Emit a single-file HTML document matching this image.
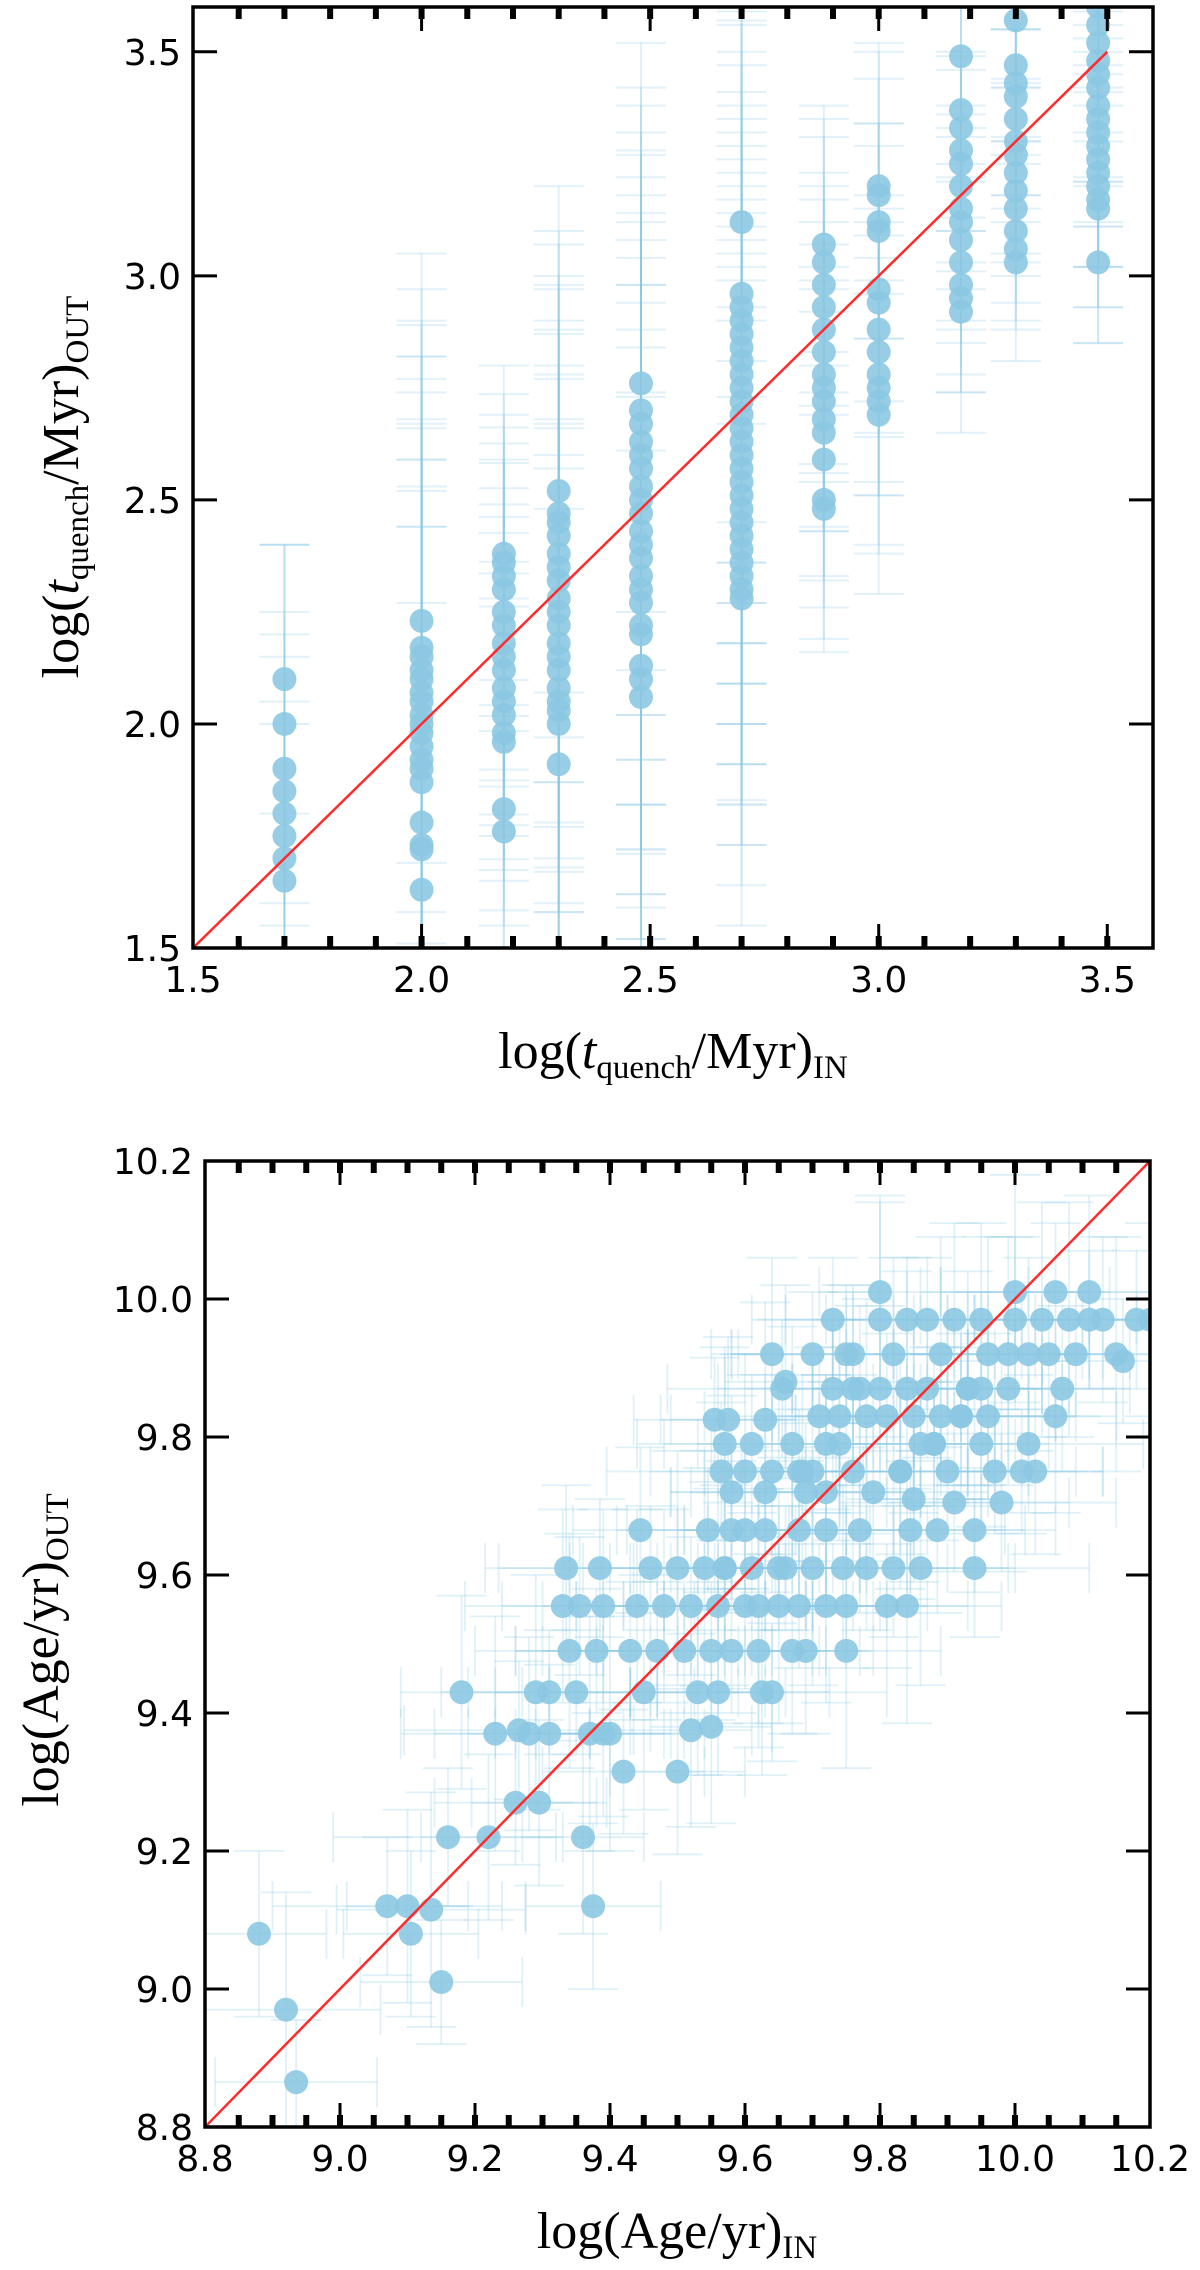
<!DOCTYPE html>
<html><head><meta charset="utf-8"><style>
html,body{margin:0;padding:0;background:#fff;}
svg{display:block;}
.tick{font-family:"DejaVu Sans","Liberation Sans",sans-serif;font-size:36px;fill:#000;}
.lab{font-family:"Liberation Serif","DejaVu Serif",serif;font-size:52px;fill:#000;}
</style></head><body>
<svg id="fig" width="1200" height="2270" viewBox="0 0 1200 2270" xmlns="http://www.w3.org/2000/svg">
<g id="p1"></g>
<g id="p2"></g>
<text class="lab" x="673" y="1068" text-anchor="middle">log(<tspan font-style="italic">t</tspan><tspan font-size="33" dy="10">quench</tspan><tspan dy="-10">/Myr)</tspan><tspan font-size="33" dy="10">IN</tspan></text>
<text class="lab" transform="translate(78,487) rotate(-90)" text-anchor="middle">log(<tspan font-style="italic">t</tspan><tspan font-size="33" dy="10">quench</tspan><tspan dy="-10">/Myr)</tspan><tspan font-size="33" dy="10">OUT</tspan></text>
<text class="lab" x="677" y="2248" text-anchor="middle">log(Age/yr)<tspan font-size="33" dy="10">IN</tspan></text>
<text class="lab" transform="translate(58,1650) rotate(-90)" text-anchor="middle">log(Age/yr)<tspan font-size="33" dy="10">OUT</tspan></text>
</svg>
<script>
// ---- Top panel data ----
const colX = [1.7, 2.0, 2.18, 2.3, 2.48, 2.7, 2.88, 3.0, 3.18, 3.3, 3.48];
const colPoints = [
 [2.10,2.00,1.90,1.85,1.80,1.75,1.70,1.65],
 [2.23,2.17,2.15,2.12,2.10,2.07,2.05,2.02,2.00,1.98,1.95,1.92,1.90,1.87,1.78,1.73,1.72,1.63],
 [2.38,2.36,2.33,2.30,2.25,2.22,2.18,2.15,2.12,2.08,2.05,2.02,1.98,1.96,1.81,1.76],
 [2.52,2.47,2.45,2.42,2.38,2.35,2.32,2.28,2.25,2.22,2.18,2.15,2.12,2.08,2.05,2.03,2.00,1.91],
 [2.76,2.70,2.67,2.63,2.60,2.57,2.53,2.50,2.47,2.43,2.40,2.37,2.33,2.30,2.27,2.22,2.20,2.13,2.10,2.06],
 [3.12,2.96,2.93,2.90,2.87,2.84,2.81,2.78,2.75,2.72,2.69,2.66,2.63,2.60,2.57,2.54,2.51,2.48,2.45,2.42,2.39,2.36,2.33,2.30,2.28],
 [3.07,3.03,2.98,2.93,2.88,2.83,2.78,2.75,2.72,2.68,2.65,2.59,2.50,2.48],
 [3.20,3.18,3.12,3.10,2.97,2.94,2.88,2.83,2.78,2.75,2.72,2.69],
 [3.49,3.37,3.33,3.28,3.25,3.20,3.15,3.12,3.08,3.03,2.98,2.95,2.92],
 [3.57,3.47,3.43,3.40,3.35,3.30,3.27,3.23,3.19,3.15,3.10,3.06,3.03],
 [3.60,3.56,3.52,3.48,3.45,3.42,3.38,3.35,3.32,3.29,3.26,3.23,3.20,3.17,3.15,3.03]
];
const colErr = [0.5, 0.9, 0.47, 0.75, 0.85, 0.75, 0.4, 0.4, 0.3, 0.25, 0.3];
const topXTicks = ["1.5","2.0","2.5","3.0","3.5"];
const topYTicks = ["1.5","2.0","2.5","3.0","3.5"];

// ---- Bottom panel data ----
const ageIn = [8.88,8.92,8.935,9.07,9.10,9.105,9.135,9.15,9.16,9.18,9.22,9.23,9.26,9.265,9.28,9.295,9.29,9.31,9.31,9.33,9.335,9.34,9.35,9.355,9.36,9.375,9.37,9.38,9.385,9.39,9.39,9.40,9.42,9.43,9.44,9.445,9.45,9.46,9.47,9.48,9.50,9.50,9.51,9.52,9.52,9.53,9.54,9.545,9.55,9.55,9.56,9.56,9.555,9.565,9.57,9.575,9.57,9.58,9.58,9.58,9.60,9.60,9.61,9.61,9.62,9.625,9.63,9.63,9.64,9.64,9.64,9.65,9.65,9.655,9.66,9.67,9.67,9.68,9.68,9.685,9.69,9.70,9.70,9.71,9.72,9.72,9.72,9.73,9.73,9.74,9.745,9.75,9.75,9.76,9.76,9.77,9.78,9.78,9.79,9.80,9.80,9.80,9.81,9.82,9.82,9.83,9.84,9.84,9.845,9.85,9.85,9.86,9.87,9.87,9.88,9.885,9.89,9.90,9.91,9.91,9.92,9.93,9.94,9.94,9.95,9.95,9.96,9.97,9.98,9.99,10.00,10.00,10.01,10.02,10.02,10.03,10.04,10.05,10.06,10.06,10.07,10.08,10.09,10.11,10.11,10.13,10.15,10.16,10.18,10.20,9.60,9.62,9.66,9.69,9.74,9.77,9.83,9.86,9.89,9.93,9.96,9.99,9.68,9.72,9.76,9.81,9.84,9.88,9.92,9.95,9.57,9.63,9.70,9.75];
const ageOut = [9.08,8.97,8.865,9.12,9.12,9.08,9.115,9.01,9.22,9.43,9.22,9.37,9.27,9.375,9.37,9.27,9.43,9.43,9.37,9.555,9.61,9.49,9.43,9.555,9.22,9.12,9.37,9.49,9.61,9.555,9.37,9.37,9.315,9.49,9.555,9.665,9.43,9.61,9.49,9.555,9.315,9.61,9.49,9.555,9.375,9.43,9.61,9.665,9.49,9.38,9.43,9.555,9.825,9.75,9.79,9.825,9.61,9.49,9.665,9.72,9.555,9.75,9.61,9.79,9.49,9.43,9.825,9.665,9.43,9.92,9.75,9.555,9.61,9.87,9.88,9.49,9.79,9.555,9.665,9.75,9.49,9.61,9.92,9.83,9.555,9.665,9.72,9.97,9.87,9.79,9.61,9.49,9.555,9.92,9.75,9.665,9.83,9.61,9.72,10.01,9.87,9.97,9.555,9.61,9.92,9.75,9.555,9.97,9.665,9.83,9.71,9.61,9.97,9.87,9.79,9.665,9.92,9.75,9.705,9.97,9.83,9.87,9.665,9.61,9.97,9.79,9.92,9.75,9.705,9.87,9.97,10.01,9.75,9.79,9.92,9.75,9.97,9.92,10.01,9.83,9.87,9.97,9.92,9.97,10.01,9.97,9.92,9.91,9.97,9.97,9.665,9.555,9.61,9.72,9.83,9.87,9.75,9.79,9.83,9.87,9.83,9.92,9.75,9.79,9.87,9.83,9.87,9.79,9.83,9.87,9.61,9.72,9.75,9.92];
const errSizes = [0.10, 0.14, 0.12, 0.17, 0.09];
const botTicks = ["8.8","9.0","9.2","9.4","9.6","9.8","10.0","10.2"];

const NS = "http://www.w3.org/2000/svg";
function mk(parent, tag, attrs){ const e=document.createElementNS(NS,tag); for(const k in attrs) e.setAttribute(k,attrs[k]); parent.appendChild(e); return e; }

function axes(g, box, xMin, xMax, yMin, yMax, xt, yt, xMinorStep){
  const X=v=>box.l+(v-xMin)/(xMax-xMin)*(box.r-box.l);
  const Y=v=>box.b-(v-yMin)/(yMax-yMin)*(box.b-box.t);
  return {X,Y,draw(){
    const fr=mk(g,'rect',{x:box.l,y:box.t,width:box.r-box.l,height:box.b-box.t,fill:'none',stroke:'#000','stroke-width':3.5});
     
    const n=Math.round((xMax-xMin)/xMinorStep);
    for(let i=1;i<n;i++){ const v=xMin+i*xMinorStep; const px=X(v);
      mk(g,'line',{x1:px,x2:px,y1:box.b,y2:box.b-12,stroke:'#000','stroke-width':6});
      mk(g,'line',{x1:px,x2:px,y1:box.t,y2:box.t+12,stroke:'#000','stroke-width':6}); }
    xt.forEach(s=>{ const v=parseFloat(s), px=X(v);
      mk(g,'line',{x1:px,x2:px,y1:box.b,y2:box.b-24,stroke:'#000','stroke-width':3});
      mk(g,'line',{x1:px,x2:px,y1:box.t,y2:box.t+24,stroke:'#000','stroke-width':3});
      const t=mk(g,'text',{x:px,y:box.b+44,'text-anchor':'middle',class:'tick'}); t.textContent=s;
        });
    yt.forEach(s=>{ const v=parseFloat(s), py=Y(v);
      mk(g,'line',{x1:box.l,x2:box.l+24,y1:py,y2:py,stroke:'#000','stroke-width':3});
      mk(g,'line',{x1:box.r,x2:box.r-24,y1:py,y2:py,stroke:'#000','stroke-width':3});
      const t=mk(g,'text',{x:box.l-12,y:py+13,'text-anchor':'end',class:'tick'}); t.textContent=s;
        });
  }};
}

// ---- Top panel ----
(function(){
  const g=document.getElementById('p1');
  const box={l:193,r:1153,t:7,b:948};
  const ax=axes(g,box,1.5,3.6,1.5,3.6,topXTicks,topYTicks,0.1);
  const clip=mk(g,'clipPath',{id:'c1'}); mk(clip,'rect',{x:box.l,y:box.t,width:box.r-box.l,height:box.b-box.t});
  const d=mk(g,'g',{'clip-path':'url(#c1)'});
  const eb=mk(d,'g',{stroke:'rgb(135,200,230)','stroke-opacity':0.25,'stroke-width':2});
   
  const pts=mk(d,'g',{fill:'rgb(140,200,226)','fill-opacity':0.9});
   
  colX.forEach((cx,ci)=>{
    const px=ax.X(cx);
    colPoints[ci].forEach((yv,j)=>{
      const e=colErr[ci]*(0.6+0.4*((j%3)/2));
      const y1=ax.Y(yv+e), y2=ax.Y(yv-e);
      mk(eb,'line',{x1:px,x2:px,y1:y1,y2:y2});
      mk(eb,'line',{x1:px-25,x2:px+25,y1:y1,y2:y1});
      mk(eb,'line',{x1:px-25,x2:px+25,y1:y2,y2:y2});
    });
  });
  colX.forEach((cx,ci)=>{ colPoints[ci].forEach(yv=>{
    const c=mk(pts,'circle',{cx:ax.X(cx),cy:ax.Y(yv),r:12});
      }); });
  const rl=mk(d,'line',{x1:ax.X(1.5),y1:ax.Y(1.5),x2:ax.X(3.5),y2:ax.Y(3.5),stroke:'#ff2a2a','stroke-width':2.5});
   
  ax.draw();
})();

// ---- Bottom panel ----
(function(){
  const g=document.getElementById('p2');
  const box={l:205,r:1150,t:1161,b:2127};
  const ax=axes(g,box,8.8,10.2,8.8,10.2,botTicks,botTicks,0.05);
  const clip=mk(g,'clipPath',{id:'c2'}); mk(clip,'rect',{x:box.l,y:box.t,width:box.r-box.l,height:box.b-box.t});
  const d=mk(g,'g',{'clip-path':'url(#c2)'});
  const eb=mk(d,'g',{stroke:'rgb(135,200,230)','stroke-opacity':0.28,'stroke-width':1.8});
   
  const pts=mk(d,'g',{fill:'rgb(140,200,226)','fill-opacity':0.9});
   
  ageIn.forEach((xv,i)=>{
    const yv=ageOut[i], ex=errSizes[i%errSizes.length], ey=errSizes[(i+2)%errSizes.length];
    const px=ax.X(xv), py=ax.Y(yv);
    const ya=ax.Y(yv+ey), yb=ax.Y(yv-ey), xa=ax.X(xv-ex), xb=ax.X(xv+ex);
    mk(eb,'line',{x1:px,x2:px,y1:ya,y2:yb});
    mk(eb,'line',{x1:px-25,x2:px+25,y1:ya,y2:ya});
    mk(eb,'line',{x1:px-25,x2:px+25,y1:yb,y2:yb});
    mk(eb,'line',{x1:xa,x2:xb,y1:py,y2:py});
    mk(eb,'line',{x1:xa,x2:xa,y1:py-25,y2:py+25});
    mk(eb,'line',{x1:xb,x2:xb,y1:py-25,y2:py+25});
  });
  ageIn.forEach((xv,i)=>{
    const c=mk(pts,'circle',{cx:ax.X(xv),cy:ax.Y(ageOut[i]),r:12});
      });
  const rl=mk(d,'line',{x1:ax.X(8.8),y1:ax.Y(8.8),x2:ax.X(10.2),y2:ax.Y(10.2),stroke:'#ff2a2a','stroke-width':2.5});
   
  ax.draw();
})();
</script>
</body></html>
